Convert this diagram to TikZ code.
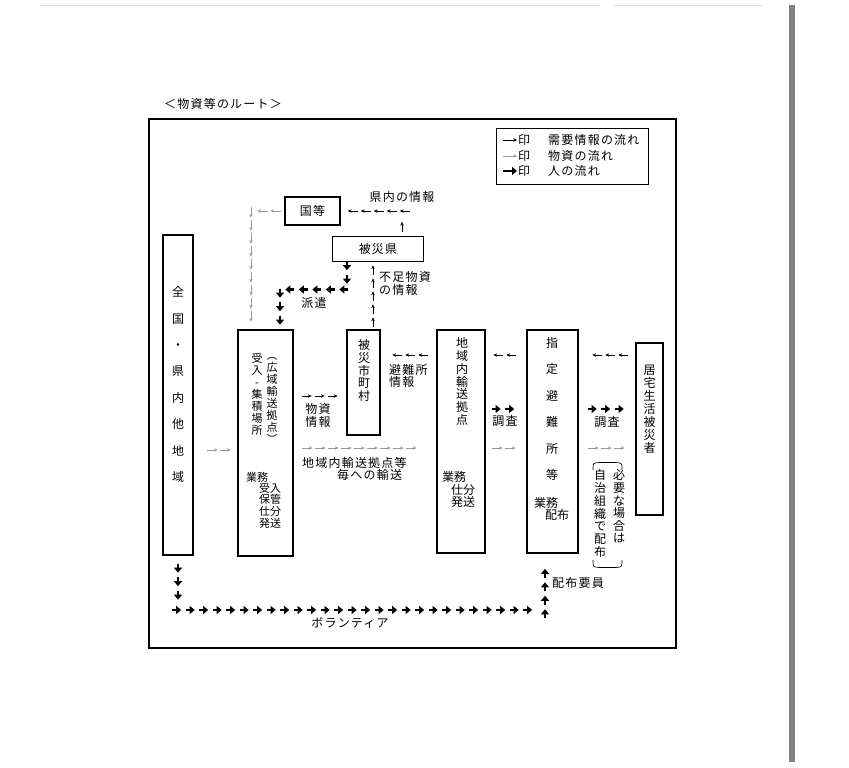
\documentclass[tikz,border=0pt]{standalone}
\usepackage{fontspec}
\usepackage{tikz}
\usetikzlibrary{arrows.meta,positioning,calc,decorations.markings}
\newfontfamily\jp{Noto Sans CJK JP}
\newfontfamily\jpw[LetterSpace=10]{Noto Sans CJK JP}
\tikzset{
  vstack/.style={inner sep=0pt, align=center, font=\jp\fontsize{12}{#1}\selectfont},
  vsmall/.style={inner sep=0pt, align=center, font=\jp\fontsize{11}{#1}\selectfont}
}

\begin{document}
\begin{tikzpicture}[>=Latex, x=1pt, y=-1pt]
  \tikzstyle{box}=[draw, line width=1.3pt, inner sep=0pt]
  \tikzstyle{lbl}=[inner sep=0pt, font=\jpw\fontsize{12}{13.5}\selectfont]
  \tikzstyle{infoarrow}=[black, line width=0.5pt, -{Stealth[length=3.8pt,width=3.4pt]}]
  \tikzstyle{goodsarrow}=[black!40, line width=0.5pt, -{Stealth[length=3.8pt,width=3.4pt]}]
  \tikzstyle{personarrow}=[black, line width=2.3pt, -{Triangle[length=5pt,width=8pt]}]
  \tikzstyle{infoflow}=[postaction={decorate}, decoration={markings, mark=between positions 10pt and 1 step 13pt with {\draw[infoarrow] (-10pt,0) -- (0,0);}}]
  \tikzstyle{goodsflow}=[postaction={decorate}, decoration={markings, mark=between positions 11pt and 1 step 13pt with {\draw[goodsarrow] (-11pt,0) -- (0,0);}}]
  \tikzstyle{personflow}=[postaction={decorate}, decoration={markings, mark=between positions 9pt and 1 step 13.5pt with {\draw[personarrow] (-9pt,0) -- (0,0);}}]

  \useasboundingbox (0,0) rectangle (849,768);
  \fill[white] (0,0) rectangle (849,768);
  % page edges of the scan
  \draw[black!12, line width=1pt] (40,6) -- (600,6) (614,6) -- (762,6);
  \fill[black!50] (789,5) rectangle (795,762);

  % frame and title
  \node[lbl] (title) at (223,104) {＜物資等のルート＞};
  \draw[line width=1.3pt] (149,119) rectangle (676,648);

  % legend
  \node[box, line width=0.9pt, minimum width=152pt, minimum height=56pt] (legend) at (572,156) {};
  \node[lbl, anchor=west] (lgA) at (518,140) {印\hspace{18pt}需要情報の流れ};
  \node[lbl, anchor=west] (lgB) at (518,156) {印\hspace{18pt}物資の流れ};
  \node[lbl, anchor=west] (lgC) at (518,171) {印\hspace{18pt}人の流れ};
  \draw[infoarrow] ([xshift=-15pt]lgA.west) -- ([xshift=-1pt]lgA.west);
  \draw[goodsarrow] ([xshift=-15pt]lgB.west) -- ([xshift=-1pt]lgB.west);
  \draw[personarrow] ([xshift=-15pt]lgC.west) -- ([xshift=-1pt]lgC.west);

  % boxes
  \node[box, minimum width=55pt, minimum height=28pt, font=\jpw\fontsize{12}{13}\selectfont] (kuni) at (312.5,211) {国等};
  \node[box, minimum width=91pt, minimum height=25pt, font=\jpw\fontsize{12}{13}\selectfont] (hisaiken) at (378,249) {被災県};
  \node[box, minimum width=30pt, minimum height=320pt] (zenkoku) at (178,395) {};
  \node[box, minimum width=55pt, minimum height=226pt] (ukeire) at (265.5,443) {};
  \node[box, minimum width=33pt, minimum height=105pt] (hisaishi) at (363.5,382.5) {};
  \node[box, minimum width=48pt, minimum height=223pt] (chiiki) at (461,441.5) {};
  \node[box, minimum width=51pt, minimum height=223pt] (shitei) at (552.5,441.5) {};
  \node[box, minimum width=27pt, minimum height=172pt] (kyotaku) at (649.5,429) {};

  % texts in the boxes
  \node[vstack=26.4] (zenkokuT) at (178,384.5) {全\\国\\・\\県\\内\\他\\地\\域};
  \node[vsmall=12] (ukeL) at (257,394) {受\\入\\-\\集\\積\\場\\所};
  \node[vsmall=12] (ukeR) at (272,400.5) {︵\\広\\域\\輸\\送\\拠\\点\\︶};
  \node[vsmall=12] (ukeJ) at (257,477) {業務};
  \node[vsmall=11.7] (ukeK) at (270,505.5) {受入\\保管\\仕分\\発送};
  \node[vstack=12.75] (hisaishiT) at (364,370.5) {被\\災\\市\\町\\村};
  \node[vstack=12.8] (chiikiT) at (462,381.5) {地\\域\\内\\輸\\送\\拠\\点};
  \node[vstack=13] (chiikiJ) at (454,477) {業務};
  \node[vstack=12] (chiikiK) at (463,496) {仕分\\発送};
  \node[vstack=26.4] (shiteiT) at (552,409) {指\\定\\避\\難\\所\\等};
  \node[vstack=13] (shiteiJ) at (546,503) {業務};
  \node[vstack=13] (shiteiK) at (557,515) {配布};
  \node[vstack=13] (kyotakuT) at (649.5,409) {居\\宅\\生\\活\\被\\災\\者};

  % note between brackets
  \node[vstack=12.8] (noteL) at (600,513.5) {自\\治\\組\\織\\で\\配\\布};
  \node[vstack=12.6] (noteR) at (619,506.5) {必\\要\\な\\場\\合\\は};
  \draw[line width=0.6pt] (593,470) .. controls (593,463) .. (599,462.5) -- (616,462.5) .. controls (622,463) .. (622,470);
  \draw[line width=0.6pt] (593,560) .. controls (593,567) .. (599,567.5) -- (616,567.5) .. controls (622,567) .. (622,560);

  % labels
  \node[lbl] (kennai) at (402,197) {県内の情報};
  \node[lbl, align=left, anchor=west] (fusoku) at (379,283.5) {不足物資\\の情報};
  \node[lbl] (haken) at (314,303) {派遣};
  \node[lbl, align=left, anchor=west, font=\jpw\fontsize{12}{12.5}\selectfont] (hinan) at (389,376) {避難所\\情報};
  \node[lbl, align=center] (busshi) at (318,415.5) {物資\\情報};
  \node[lbl, align=left, anchor=west, font=\jpw\fontsize{12}{12.5}\selectfont] (yuso) at (302,469) {地域内輸送拠点等\\\hspace{35pt}毎への輸送};
  \node[lbl] (chosaA) at (505,421) {調査};
  \node[lbl] (chosaB) at (607,422) {調査};
  \node[lbl, anchor=west] (haifu) at (552,583) {配布要員};
  \node[lbl] (volunteer) at (350,623) {ボランティア};

  % rows of the flows
  \coordinate (rowA) at (0,355);
  \coordinate (rowM) at (0,396);
  \coordinate (rowB) at (0,409);
  \coordinate (rowC) at (0,448);
  \coordinate (hakenrow) at (0,289.5);
  \coordinate (volrow) at (0,610);
  \coordinate (kenUp) at ($(hisaiken.north)+(24,-4)$);
  \coordinate (kuniDn) at ($(ukeire.north)+(-14.5,-5)$);
  \coordinate (hakenTop) at ($(hisaiken.south)+(-31,-1)$);
  \coordinate (hakenEnd) at ($(ukeire.north)+(14.5,-3)$);
  \coordinate (fusokuBot) at ($(hisaishi.north)+(9.5,-2)$);
  \coordinate (volEnd) at ($(shitei.south)+(-7.5,0)$);

  % flows
  \path[infoflow] (kenUp) |- (kuni.east);
  \path[goodsflow] ($(kuni.west)+(-3,0)$) -| (kuniDn);
  \path[personflow] (hakenTop) -- (hakenTop |- hakenrow) -| (hakenEnd);
  \path[infoflow] (fusokuBot) -- (fusokuBot |- hisaiken.south);
  \path[goodsflow] ($(zenkoku.east |- rowC)+(13,2)$) -- ($(ukeire.west |- rowC)+(-3,2)$);
  \path[infoflow] ($(ukeire.east |- rowM)+(8,0)$) -- ($(hisaishi.west |- rowM)+(-6,0)$);
  \path[goodsflow] ($(ukeire.east |- rowC)+(8,0)$) -- ($(chiiki.west |- rowC)+(-12,0)$);
  \path[infoflow] ($(chiiki.west |- rowA)+(-8,0)$) -- ($(hisaishi.east |- rowA)+(8,0)$);
  \path[infoflow] ($(shitei.west |- rowA)+(-10,0)$) -- ($(chiiki.east |- rowA)+(7,0)$);
  \path[personflow] ($(chiiki.east |- rowB)+(6,0)$) -- ($(shitei.west |- rowB)+(-9,0)$);
  \path[goodsflow] ($(chiiki.east |- rowC)+(6,0)$) -- ($(shitei.west |- rowC)+(-7,0)$);
  \path[infoflow] ($(kyotaku.west |- rowA)+(-7,0)$) -- ($(shitei.east |- rowA)+(9,0)$);
  \path[personflow] ($(shitei.east |- rowB)+(9,0)$) -- ($(kyotaku.west |- rowB)+(-7,0)$);
  \path[goodsflow] ($(shitei.east |- rowC)+(9,0)$) -- ($(kyotaku.west |- rowC)+(-7,0)$);
  \path[personflow] ($(zenkoku.south)+(0,8)$) -- (zenkoku.south |- volrow) -- (volEnd |- volrow) -- ($(volEnd)+(0,6)$);
\end{tikzpicture}
\end{document}
